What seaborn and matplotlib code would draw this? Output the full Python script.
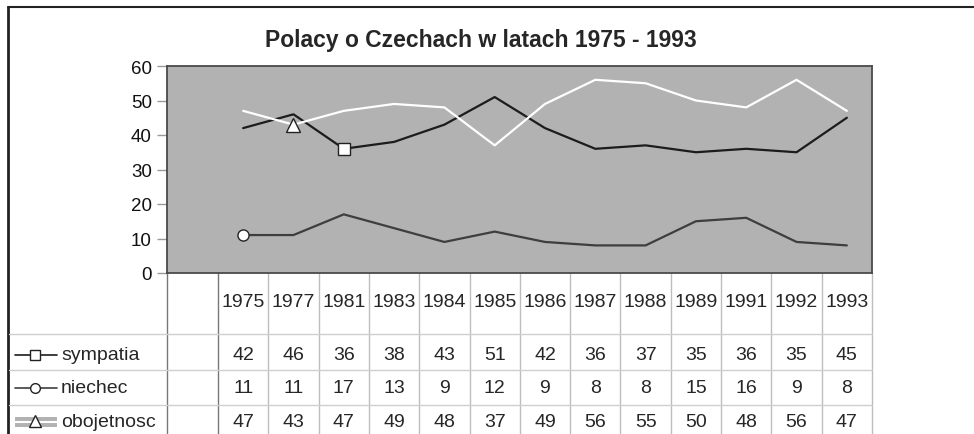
import numpy as np
import pandas as pd
import matplotlib.pyplot as plt
import seaborn as sns

# dane z tabeli
years = ["1975", "1977", "1981", "1983", "1984", "1985", "1986",
         "1987", "1988", "1989", "1991", "1992", "1993"]
sympatia = [42, 46, 36, 38, 43, 51, 42, 36, 37, 35, 36, 35, 45]
niechec = [11, 11, 17, 13, 9, 12, 9, 8, 8, 15, 16, 9, 8]
obojetnosc = [47, 43, 47, 49, 48, 37, 49, 56, 55, 50, 48, 56, 47]
series_names = ["sympatia", "niechec", "obojetnosc"]
title = "Polacy o Czechach w latach 1975 - 1993"

sns.set_style("white")
plt.rcParams["font.family"] = ["Liberation Sans", "DejaVu Sans"]

W, H = 974, 435
fig = plt.figure(figsize=(W / 100, H / 100), dpi=100)

# uklad w pikselach
px_left, px_right, px_top, px_bottom = 167, 872, 67, 274
col0 = 218
colw = (px_right - col0) / len(years)
header_y = 303
row_lines = [335, 371, 406]
row_y = [356, 389, 423]

# warstwa tabeli (wspolrzedne pikselowe)
tax = fig.add_axes([0, 0, 1, 1])
tax.set_xlim(0, W)
tax.set_ylim(H, 0)
tax.axis("off")

# wykres
ax = fig.add_axes([px_left / W, 1 - px_bottom / H,
                   (px_right - px_left) / W, (px_bottom - px_top) / H])
ax.set_facecolor("#b2b2b2")

df = pd.DataFrame({"pos": np.arange(len(years)),
                   "sympatia": sympatia, "niechec": niechec,
                   "obojetnosc": obojetnosc})

styles = {
    "sympatia": dict(color="#1c1c1c", marker="s", markevery=[2], ms=8),
    "niechec": dict(color="#3e3e3e", marker="o", markevery=[0], ms=8),
    "obojetnosc": dict(color="white", marker="^", markevery=[1], ms=10),
}
for name in series_names:
    st = styles[name]
    sns.lineplot(data=df, x="pos", y=name, ax=ax, color=st["color"], lw=1.6,
                 marker=st["marker"], markevery=st["markevery"], ms=st["ms"],
                 mfc="white", mec="#222222", mew=1)

left_pos = (px_left - (col0 + colw / 2)) / colw
right_pos = (px_right - (col0 + colw / 2)) / colw
ax.set_xlim(left_pos, right_pos)
ax.set_ylim(0, 60)
ax.set_yticks(range(0, 61, 10))
ax.set_xticks([])
ax.set_xlabel("")
ax.set_ylabel("")
ax.tick_params(axis="y", left=True, direction="out", length=7, width=1,
               color="#999999", labelsize=13.5, pad=4, labelcolor="#111111")
for sp in ax.spines.values():
    sp.set_color("#4a4a4a")
    sp.set_linewidth(1.3)

fig.text(481 / W, 1 - 40 / H, title, ha="center", va="center",
         fontsize=16.5, fontweight="bold")

# ramka
tax.plot([8, 8], [8, H], color="#222222", lw=2)
tax.plot([8, W], [8, 8], color="#222222", lw=1.5)

# linie tabeli
tax.plot([px_left, px_left], [px_bottom, H], color="#777777", lw=1)
for k in range(len(years) + 1):
    xk = col0 + k * colw
    tax.plot([xk, xk], [px_bottom, H], color="#777777" if k == 0 else "#bdbdbd", lw=1)
for yl in row_lines:
    tax.plot([9, px_right], [yl, yl], color="#cfcfcf", lw=1)

for i, yr in enumerate(years):
    tax.text(col0 + colw * (i + 0.5), header_y, yr, ha="center", va="center",
             fontsize=14)

values = [sympatia, niechec, obojetnosc]
for r, (name, vals) in enumerate(zip(series_names, values)):
    y = row_y[r]
    for i, v in enumerate(vals):
        tax.text(col0 + colw * (i + 0.5), y, str(v), ha="center", va="center",
                 fontsize=14)
    tax.text(61, y, name, ha="left", va="center", fontsize=14)

# klucze legendy
tax.plot([15, 57], [row_y[0], row_y[0]], color="#1c1c1c", lw=1.2)
tax.plot([35], [row_y[0]], marker="s", ms=7, mfc="white", mec="#222222", mew=1)
tax.plot([15, 57], [row_y[1], row_y[1]], color="#3e3e3e", lw=1.2)
tax.plot([35], [row_y[1]], marker="o", ms=7, mfc="white", mec="#222222", mew=1)
tax.add_patch(plt.Rectangle((15, row_y[2] - 5), 42, 10, color="#b2b2b2", lw=0))
tax.plot([15, 57], [row_y[2], row_y[2]], color="white", lw=1.5)
tax.plot([35], [row_y[2] - 1], marker="^", ms=8, mfc="white", mec="#222222", mew=1)

fig.savefig("out.png", dpi=100)
